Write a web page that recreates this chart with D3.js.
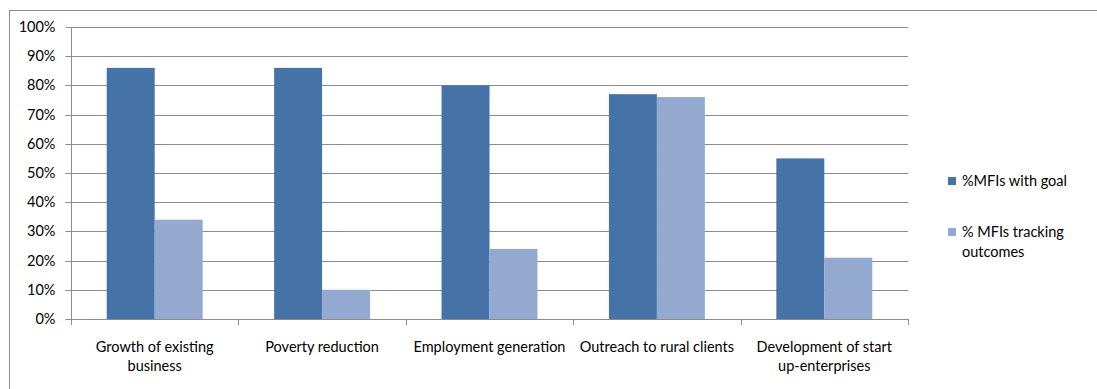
<!DOCTYPE html>
<html>
<head>
<meta charset="utf-8">
<script src="https://cdn.jsdelivr.net/npm/d3@7"></script>
<style>
  html, body { margin: 0; padding: 0; background: #fff; }
  svg { display: block; }
  text { font-family: Lato, "Open Sans", sans-serif; fill: #000; }
</style>
</head>
<body>
<svg id="chart" width="1097" height="389"></svg>
<script>
// Goals of microfinance institutions vs. whether they track outcomes
const categories = [
  ["Growth of existing", "business"],
  ["Poverty reduction"],
  ["Employment generation"],
  ["Outreach to rural clients"],
  ["Development of start", "up-enterprises"]
];
const seriesNames = [["%MFIs with goal"], ["% MFIs tracking", "outcomes"]];
const withGoal = [0.86, 0.86, 0.80, 0.77, 0.55];
const tracking = [0.34, 0.10, 0.24, 0.76, 0.21];
const yTicks = [0, 0.1, 0.2, 0.3, 0.4, 0.5, 0.6, 0.7, 0.8, 0.9, 1.0];
const colors = ["#4572A7", "#93A9CF"];

const svg = d3.select("#chart");
const gridColor = "#8c8c8c";
const fontSize = "14.5px";

// outer chart frame
svg.append("rect")
  .attr("x", 9.5).attr("y", 10.5)
  .attr("width", 1100).attr("height", 400)
  .attr("fill", "none").attr("stroke", gridColor).attr("stroke-width", 1);

const plot = { left: 71, right: 908, top: 27, bottom: 319 };

const x0 = d3.scaleBand()
  .domain(d3.range(categories.length))
  .range([plot.left, plot.right])
  .paddingInner(0).paddingOuter(0);

const x1 = d3.scaleBand()
  .domain([0, 1])
  .range([0, x0.bandwidth()])
  .paddingInner(0)
  .paddingOuter(0.745);

const y = d3.scaleLinear().domain([0, 1]).range([plot.bottom, plot.top]);

// horizontal gridlines
svg.append("g")
  .selectAll("line")
  .data(yTicks)
  .join("line")
  .attr("x1", plot.left).attr("x2", plot.right)
  .attr("y1", d => Math.round(y(d)) + 0.5).attr("y2", d => Math.round(y(d)) + 0.5)
  .attr("stroke", gridColor).attr("stroke-width", 1);

// y axis
const yAxis = d3.axisLeft(y)
  .tickValues(yTicks)
  .tickFormat(d3.format(".0%"))
  .tickSize(6)
  .tickPadding(10);
const gy = svg.append("g")
  .attr("transform", `translate(${plot.left + 0.5},0)`)
  .call(yAxis);
gy.select(".domain").attr("stroke", gridColor).attr("d", `M0,${plot.top}V${plot.bottom + 0.5}`);
gy.selectAll(".tick line").attr("stroke", gridColor);
gy.selectAll(".tick").attr("transform", d => `translate(0,${Math.round(y(d)) + 0.5})`);
gy.selectAll(".tick text")
  .style("font-family", "Lato, 'Open Sans', sans-serif")
  .style("font-size", fontSize).attr("fill", "#000");

// bars
const groups = svg.append("g")
  .selectAll("g")
  .data(categories.map((c, i) => ({ i, vals: [withGoal[i], tracking[i]] })))
  .join("g")
  .attr("transform", d => `translate(${x0(d.i)},0)`);

groups.selectAll("rect")
  .data(d => d.vals.map((v, s) => ({ v, s })))
  .join("rect")
  .attr("x", d => x1(d.s))
  .attr("width", x1.bandwidth())
  .attr("y", d => y(d.v))
  .attr("height", d => y(0) - y(d.v))
  .attr("fill", d => colors[d.s]);

// x axis line + category ticks
const xAxisG = svg.append("g");
xAxisG.append("line")
  .attr("x1", plot.left).attr("x2", plot.right + 0.5)
  .attr("y1", plot.bottom + 0.5).attr("y2", plot.bottom + 0.5)
  .attr("stroke", gridColor);
const boundaries = d3.range(categories.length + 1).map(i =>
  i < categories.length ? x0(i) : x0(i - 1) + x0.bandwidth());
xAxisG.selectAll(".cat-tick")
  .data(boundaries)
  .join("line")
  .attr("class", "cat-tick")
  .attr("x1", d => Math.round(d) + 0.5).attr("x2", d => Math.round(d) + 0.5)
  .attr("y1", plot.bottom).attr("y2", plot.bottom + 6)
  .attr("stroke", gridColor);

// category labels
const labels = svg.append("g")
  .selectAll("text")
  .data(categories)
  .join("text")
  .attr("x", (d, i) => x0(i) + x0.bandwidth() / 2)
  .attr("y", 352)
  .attr("text-anchor", "middle")
  .style("font-size", fontSize);
labels.selectAll("tspan")
  .data(d => d)
  .join("tspan")
  .attr("x", function() { return d3.select(this.parentNode).attr("x"); })
  .attr("dy", (d, i) => i === 0 ? 0 : 19)
  .text(d => d);

// legend
const legend = svg.append("g");
const legendY = [181, 232];
seriesNames.forEach((lines, s) => {
  legend.append("rect")
    .attr("x", 948).attr("y", legendY[s] - 4)
    .attr("width", 8).attr("height", 8)
    .attr("fill", colors[s]);
  const t = legend.append("text")
    .attr("x", 962).attr("y", legendY[s] + 5)
    .style("font-size", fontSize);
  lines.forEach((ln, k) => {
    t.append("tspan").attr("x", 962).attr("dy", k === 0 ? 0 : 20).text(ln);
  });
});
</script>
</body>
</html>
